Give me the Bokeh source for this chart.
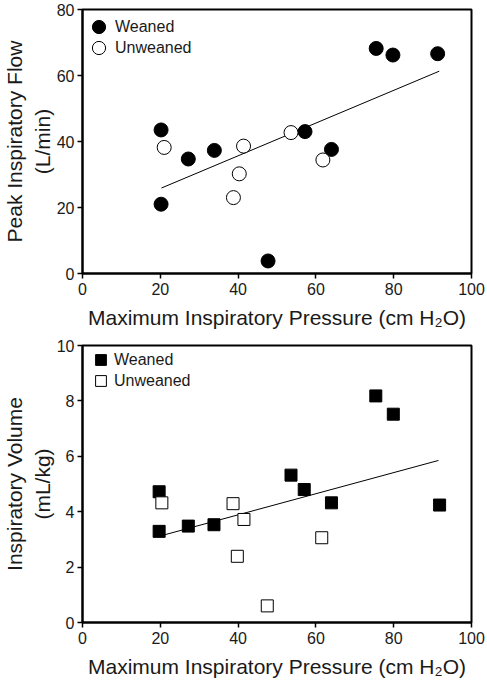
from bokeh.plotting import figure
from bokeh.layouts import column
from bokeh.models import Legend, LegendItem, Range1d, FixedTicker
from bokeh.embed import file_html
from bokeh.resources import INLINE

# ---- Data ----
# Top panel: Peak inspiratory flow (L/min) vs MIP (cm H2O)
flow_weaned_x = [20.2, 20.2, 27.2, 33.9, 47.7, 57.2, 64.0, 75.5, 79.8, 91.3]
flow_weaned_y = [43.5, 21.0, 34.7, 37.3, 3.8, 43.0, 37.6, 68.2, 66.2, 66.6]
flow_unweaned_x = [21.0, 38.8, 40.3, 41.4, 53.6, 61.8]
flow_unweaned_y = [38.2, 23.0, 30.2, 38.6, 42.7, 34.4]
flow_fit_x = [20.3, 91.7]
flow_fit_y = [25.9, 61.3]

# Bottom panel: Inspiratory volume (mL/kg) vs MIP (cm H2O)
vol_weaned_x = [19.7, 19.7, 27.2, 33.8, 53.6, 57.0, 64.0, 75.4, 79.9, 91.8]
vol_weaned_y = [4.72, 3.29, 3.48, 3.53, 5.32, 4.80, 4.32, 8.18, 7.52, 4.24]
vol_unweaned_x = [20.4, 38.7, 39.8, 41.5, 47.5, 61.5]
vol_unweaned_y = [4.32, 4.29, 2.39, 3.72, 0.60, 3.06]
vol_fit_x = [21.2, 91.5]
vol_fit_y = [3.17, 5.85]

x_ticks = [0, 20, 40, 60, 80, 100]
flow_ticks = [0, 20, 40, 60, 80]
vol_ticks = [0, 2, 4, 6, 8, 10]

x_label = "Maximum Inspiratory Pressure (cm H\u2082O)"
flow_label = "Peak Inspiratory Flow\n(L/min)"
vol_label = "Inspiratory Volume\n(mL/kg)"
series_names = ["Weaned", "Unweaned"]

FONT = "Liberation Sans"
TXT = "#1a1a1a"


def style(p, yticks):
    p.grid.visible = False
    p.outline_line_color = "black"
    p.outline_line_width = 2
    p.background_fill_color = "white"
    p.border_fill_color = "white"
    for ax in (p.xaxis[0], p.yaxis[0]):
        ax.axis_line_width = 2
        ax.axis_line_color = "black"
        ax.major_tick_out = 5
        ax.major_tick_in = 0
        ax.major_tick_line_width = 1.5
        ax.minor_tick_line_color = None
        ax.major_label_text_font = FONT
        ax.major_label_text_font_size = "16px"
        ax.major_label_text_color = TXT
        ax.axis_label_text_font = FONT
        ax.axis_label_text_font_size = "21px"
        ax.axis_label_text_font_style = "normal"
        ax.axis_label_text_color = TXT
    p.xaxis[0].ticker = FixedTicker(ticks=x_ticks)
    p.yaxis[0].ticker = FixedTicker(ticks=yticks)
    p.xaxis[0].major_label_standoff = 4
    p.yaxis[0].major_label_standoff = 3
    p.xaxis[0].axis_label_standoff = 8
    p.yaxis[0].axis_label_standoff = 0


def single_legend(p, name, renderer, loc, box_w, box_h):
    leg = Legend(items=[LegendItem(label=name, renderers=[renderer])],
                 location=loc, margin=0, padding=0,
                 glyph_width=box_w, glyph_height=box_h, label_standoff=0,
                 label_height=box_h,
                 label_text_font=FONT, label_text_font_size="16px",
                 label_text_color=TXT,
                 border_line_color=None, background_fill_alpha=0)
    p.add_layout(leg, "center")


FW = 389

# ---- Top figure ----
FH1 = 264
p1 = figure(frame_width=FW, frame_height=FH1,
            x_range=Range1d(0, 100), y_range=Range1d(0, 80),
            output_backend="svg", toolbar_location=None,
            min_border_left=60, min_border_right=15,
            min_border_top=9, min_border_bottom=0,
            x_axis_label=x_label, y_axis_label=flow_label)
style(p1, flow_ticks)
p1.line(flow_fit_x, flow_fit_y, line_color="black", line_width=1)
r1 = p1.scatter(flow_weaned_x, flow_weaned_y, marker="circle", size=14,
                fill_color="black", line_color="black", line_width=1)
r2 = p1.scatter(flow_unweaned_x, flow_unweaned_y, marker="circle", size=14,
                fill_color="white", line_color="black", line_width=1)
B1 = 33
single_legend(p1, series_names[0], r1, (0, FH1 - B1 - 1), B1, B1)
single_legend(p1, series_names[1], r2, (0, FH1 - B1 - 22), B1, B1)

# ---- Bottom figure ----
FH2 = 277
p2 = figure(frame_width=FW, frame_height=FH2,
            x_range=Range1d(0, 100), y_range=Range1d(0, 10),
            output_backend="svg", toolbar_location=None,
            min_border_left=60, min_border_right=15,
            min_border_top=14, min_border_bottom=0,
            x_axis_label=x_label, y_axis_label=vol_label)
style(p2, vol_ticks)
p2.line(vol_fit_x, vol_fit_y, line_color="black", line_width=1)
s1 = p2.scatter(vol_weaned_x, vol_weaned_y, marker="square", size=12,
                fill_color="black", line_color="black", line_width=1)
s2 = p2.scatter(vol_unweaned_x, vol_unweaned_y, marker="square", size=12,
                fill_color="white", line_color="black", line_width=1)
B2 = 27
single_legend(p2, series_names[0], s1, (5, FH2 - B2 - 1), B2, B2)
single_legend(p2, series_names[1], s2, (5, FH2 - B2 - 22), B2, B2)

layout = column(p1, p2, spacing=0)
open("out.html", "w").write(file_html(layout, INLINE))
